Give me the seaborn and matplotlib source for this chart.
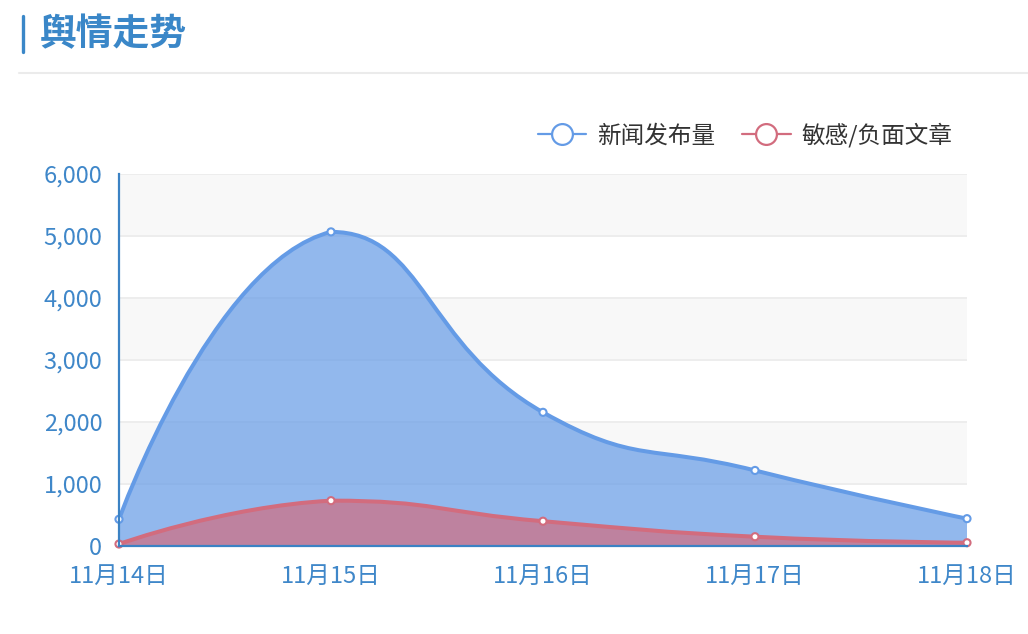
import numpy as np
import pandas as pd
import matplotlib
matplotlib.use("Agg")
import matplotlib.pyplot as plt
import seaborn as sns
from matplotlib.path import Path
from matplotlib.patches import PathPatch
from matplotlib.lines import Line2D

# Data
dates = ["11月14日", "11月15日", "11月16日", "11月17日", "11月18日"]
news = [426, 5059, 2150, 1213, 436]
negative = [27, 726, 395, 145, 48]
y_ticks = [0, 1000, 2000, 3000, 4000, 5000, 6000]

title = "舆情走势"
series_names = ["新闻发布量", "敏感/负面文章"]

blue = "#649be6"
red = "#d26c7e"
axis_blue = "#3b82c4"
label_blue = "#3f87c9"

sns.set_theme(style="white")
plt.rcParams["font.family"] = ["Noto Sans CJK SC", "DejaVu Sans"]

W, H = 1028, 634
fig = plt.figure(figsize=(W / 100, H / 100), dpi=100)
ax = fig.add_axes([119 / W, 1 - 545.7 / H, (967 - 119) / W, (545.7 - 173.5) / H])
ax.set_xlim(0, len(dates) - 1)
ax.set_ylim(y_ticks[0], y_ticks[-1])

# split area + grid
for i in range(len(y_ticks) - 1):
    if i % 2 == 1:
        ax.axhspan(y_ticks[i], y_ticks[i + 1], color="#f8f8f8", zorder=0, lw=0)
for t in y_ticks[1:]:
    ax.axhline(t, color="#ececec", lw=1.3, zorder=0.5)


def smooth_path(ys, smooth=0.5):
    # echarts-like bezier smoothing, done in pixel space
    xs = np.arange(len(ys))
    pts = ax.transData.transform(np.column_stack([xs, ys]))
    lo, hi = pts.min(axis=0), pts.max(axis=0)
    verts = [pts[0]]
    codes = [Path.MOVETO]
    cp0 = pts[0].copy()
    n = len(pts)
    for i in range(1, n):
        p = pts[i]
        r = 0.5
        v = np.zeros(2)
        if i < n - 1:
            prev, nxt = pts[i - 1], pts[i + 1]
            v = nxt - prev
            d0 = np.hypot(*(p - prev))
            d1 = np.hypot(*(p - nxt))
            r = d1 / (d0 + d1)
            cp1 = p - smooth * (1 - r) * v
        else:
            cp1 = p.copy()
        cp0 = np.clip(cp0, lo, hi)
        cp1 = np.clip(cp1, lo, hi)
        verts += [cp0, cp1, p]
        codes += [Path.CURVE4] * 3
        cp0 = p + smooth * r * v
    inv = ax.transData.inverted()
    return inv.transform(np.array(verts)), codes


for vals, col in [(news, blue), (negative, red)]:
    verts, codes = smooth_path(vals)
    area_v = np.vstack([verts, [[len(vals) - 1, 0], [0, 0], [0, 0]]])
    area_c = codes + [Path.LINETO, Path.LINETO, Path.CLOSEPOLY]
    ax.add_patch(PathPatch(Path(area_v, area_c), facecolor=col, alpha=0.7,
                           lw=0, zorder=2))
    ax.add_patch(PathPatch(Path(verts, codes), facecolor="none", edgecolor=col,
                           lw=2.9, zorder=3, clip_on=False))

df = pd.DataFrame({
    "x": list(range(len(dates))) * 2,
    "y": news + negative,
    "series": [series_names[0]] * len(dates) + [series_names[1]] * len(dates),
})
sns.scatterplot(data=df, x="x", y="y", hue="series",
                palette=[blue, red], facecolor="white", s=26, linewidth=1.5,
                legend=False, zorder=5, ax=ax)
for c in ax.collections:
    c.set_facecolor("white")
    c.set_clip_on(False)
# scatterplot sets edge colors via hue; restore them
ax.collections[-1].set_edgecolor([blue] * len(dates) + [red] * len(dates))

ax.set_xlabel("")
ax.set_ylabel("")
ax.set_xticks(range(len(dates)))
ax.set_xticklabels(dates)
ax.set_yticks(y_ticks)
ax.set_yticklabels([f"{t:,}" for t in y_ticks])
ax.tick_params(axis="both", length=0, labelsize=17, colors=label_blue)
ax.tick_params(axis="y", pad=12)
ax.tick_params(axis="x", pad=13.5)
for s in ["top", "right"]:
    ax.spines[s].set_visible(False)
for s in ["left", "bottom"]:
    ax.spines[s].set_color(axis_blue)
    ax.spines[s].set_linewidth(1.6)
    ax.spines[s].set_zorder(6)

# legend
handles = [
    Line2D([], [], color=col, lw=1.6, marker="o", markersize=15,
           markerfacecolor="white", markeredgewidth=1.6)
    for col in [blue, red]
]
ax.legend(handles, series_names, ncol=2, frameon=False, fontsize=17,
          loc="center right", bbox_to_anchor=(964 / W, 1 - 135 / H),
          bbox_transform=fig.transFigure, handlelength=2.05,
          handletextpad=0.45, columnspacing=1.15, borderpad=0,
          labelcolor="#333333")

# header
fig.text(40 / W, 1 - 35 / H, title, fontsize=26.5, fontweight="bold",
         color="#3a87c8", va="center", ha="left")
fig.add_artist(Line2D([22.5 / W, 22.5 / W], [1 - 16 / H, 1 - 52 / H],
                      color="#3a87c8", lw=2.4))
fig.add_artist(Line2D([19 / W, 1], [1 - 73 / H, 1 - 73 / H],
                      color="#ebebeb", lw=1.5))

fig.savefig("out.png", dpi=100)
